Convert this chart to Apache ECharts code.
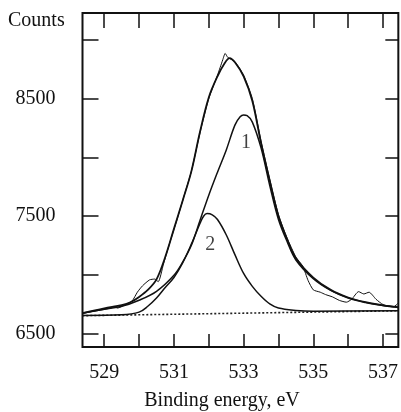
<!DOCTYPE html>
<html>
<head>
<meta charset="utf-8">
<script src="https://cdn.jsdelivr.net/npm/echarts@6/dist/echarts.min.js"></script>
<style>
  html, body { margin: 0; padding: 0; background: #fff; }
  #chart { width: 401px; height: 412px; }
</style>
</head>
<body>
<div id="chart"></div>
<script>
// axis ticks / labels
var energyTicks = [529, 530, 531, 532, 533, 534, 535, 536, 537];
var energyLabels = [529, 531, 533, 535, 537];
var countTicks = [6500, 7000, 7500, 8000, 8500, 9000];
var countLabels = [6500, 7500, 8500];

// measured spectrum [binding energy, counts]
var measured = [
  [528.37, 6668], [528.6, 6682], [528.85, 6695], [529.05, 6706], [529.2, 6716],
  [529.28, 6730], [529.38, 6715], [529.6, 6742], [529.8, 6775], [529.95, 6850],
  [530.1, 6905], [530.3, 6955], [530.45, 6962], [530.55, 6940], [530.7, 7090],
  [530.9, 7290], [531.1, 7480], [531.3, 7680], [531.5, 7880], [531.75, 8210],
  [532.0, 8500], [532.25, 8700], [532.4, 8830], [532.47, 8885], [532.55, 8850],
  [532.75, 8815], [533.0, 8700], [533.25, 8500], [533.5, 8140], [533.75, 7810],
  [534.0, 7510], [534.25, 7310], [534.5, 7150], [534.7, 7070], [534.85, 6950],
  [535.0, 6870], [535.2, 6850], [535.35, 6830], [535.55, 6810], [535.75, 6780],
  [535.95, 6765], [536.1, 6790], [536.3, 6855], [536.45, 6835], [536.6, 6850],
  [536.8, 6790], [537.0, 6745], [537.3, 6725], [537.43, 6755]
];

// fitted envelope
var envelope = [
  [528.37, 6671], [529.0, 6713], [529.5, 6740], [529.75, 6764], [530.0, 6810],
  [530.25, 6870], [530.5, 6960], [530.75, 7150], [531.0, 7390], [531.25, 7630],
  [531.5, 7880], [531.75, 8220], [532.0, 8510], [532.25, 8690], [532.45, 8800],
  [532.6, 8846], [532.75, 8810], [533.0, 8690], [533.25, 8480], [533.5, 8120],
  [533.75, 7800], [534.0, 7500], [534.25, 7300], [534.5, 7140], [535.0, 6975],
  [535.5, 6870], [536.0, 6805], [536.5, 6765], [537.0, 6738], [537.43, 6722]
];

// component 1
var peak1 = [
  [528.37, 6671], [529.0, 6705], [529.5, 6730], [530.0, 6782], [530.5, 6858],
  [531.0, 6995], [531.25, 7106], [531.5, 7250], [531.75, 7464], [532.0, 7677],
  [532.25, 7873], [532.5, 8061], [532.75, 8274], [532.9, 8345], [533.0, 8360],
  [533.1, 8355], [533.25, 8300], [533.5, 8080], [533.75, 7760], [534.0, 7470],
  [534.25, 7280], [534.5, 7125], [535.0, 6965], [535.5, 6865], [536.0, 6800],
  [536.5, 6762], [537.0, 6736], [537.43, 6720]
];

// component 2
var peak2 = [
  [528.37, 6652], [529.5, 6657], [530.0, 6680], [530.25, 6730], [530.5, 6800],
  [530.75, 6890], [531.0, 6975], [531.25, 7100], [531.5, 7260], [531.75, 7438],
  [531.85, 7498], [531.95, 7520], [532.1, 7510], [532.25, 7470], [532.5, 7340],
  [532.75, 7170], [533.0, 7010], [533.25, 6900], [533.5, 6815], [533.75, 6750],
  [534.0, 6715], [534.5, 6695], [535.0, 6688], [537.43, 6692]
];

// background line
var background = [[528.37, 6650], [537.43, 6692]];

// component labels
var peakNames = ['1', '2'];
var peakLabelAt = [[533.07, 8121], [532.04, 7251]];

var serif = 'Liberation Serif, Times New Roman, serif';
var ink = '#111';

var chart = echarts.init(document.getElementById('chart'));

var labelData = peakNames.map(function (n, i) {
  return { name: n, value: peakLabelAt[i] };
});

function curve(data, width, type) {
  return {
    type: 'line',
    data: data,
    showSymbol: false,
    smooth: 0.35,
    lineStyle: { color: ink, width: width, type: type || 'solid' },
    silent: true
  };
}

var tickOnly = function (pos, vals, len) {
  return {
    type: 'value',
    position: pos,
    min: pos === 'top' || pos === 'bottom' ? 528.376 : 6383,
    max: pos === 'top' || pos === 'bottom' ? 537.44 : 9230,
    axisLine: { show: false },
    splitLine: { show: false },
    axisTick: { inside: true, length: len, customValues: vals, lineStyle: { color: ink, width: 1.5 } },
    axisLabel: { show: false }
  };
};

var option = {
  animation: false,
  backgroundColor: '#fff',
  grid: {
    left: 82.5, right: 2, top: 13, bottom: 65,
    show: true, borderColor: ink, borderWidth: 2
  },
  xAxis: [
    {
      type: 'value',
      min: 528.376, max: 537.44,
      axisLine: { show: false },
      splitLine: { show: false },
      axisTick: { inside: true, length: 13, customValues: energyTicks, lineStyle: { color: ink, width: 1.5 } },
      axisLabel: {
        customValues: energyLabels, margin: 16,
        fontFamily: serif, fontSize: 20, color: ink,
        formatter: function (v) { return String(v); }
      }
    },
    tickOnly('top', energyTicks, 15)
  ],
  yAxis: [
    {
      type: 'value',
      min: 6383, max: 9230,
      axisLine: { show: false },
      splitLine: { show: false },
      axisTick: { inside: true, length: 16, customValues: countTicks, lineStyle: { color: ink, width: 1.5 } },
      axisLabel: {
        customValues: countLabels, margin: 67, align: 'left',
        fontFamily: serif, fontSize: 20, color: ink,
        formatter: function (v) { return String(v); }
      }
    },
    tickOnly('right', countTicks, 13)
  ],
  graphic: [
    {
      type: 'text', left: 8, top: 11,
      style: { text: 'Counts', font: '20px ' + serif, fill: ink }
    },
    {
      type: 'text', x: 222, y: 401,
      style: { text: 'Binding energy, eV', font: '20px ' + serif, fill: ink, align: 'center', verticalAlign: 'middle' }
    }
  ],
  series: [
    {
      type: 'line', data: background, showSymbol: false, silent: true,
      lineStyle: { color: '#222', width: 1.6, type: [2, 2] }
    },
    curve(peak2, 1.5),
    curve(peak1, 1.5),
    curve(envelope, 1.8),
    {
      type: 'line', data: measured, showSymbol: false, silent: true, smooth: 0.2,
      lineStyle: { color: ink, width: 1 }
    },
    {
      type: 'scatter', data: labelData, symbolSize: 1, silent: true,
      itemStyle: { color: 'rgba(0,0,0,0)' },
      label: {
        show: true, position: 'inside', formatter: '{b}',
        fontFamily: serif, fontSize: 20, color: ink
      }
    }
  ]
};

chart.setOption(option);
</script>
</body>
</html>
